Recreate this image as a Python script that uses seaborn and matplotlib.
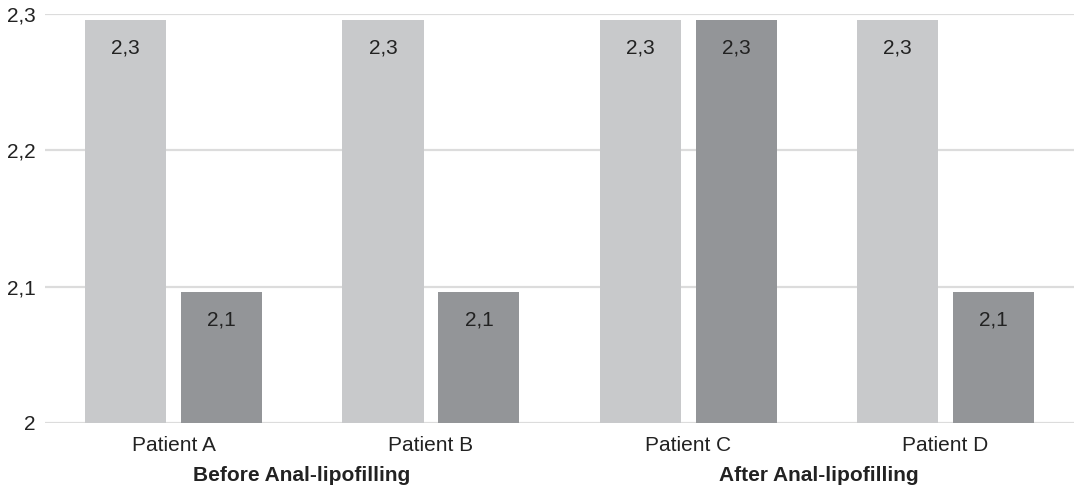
import pandas as pd
import matplotlib
matplotlib.use("Agg")
import matplotlib.pyplot as plt
import seaborn as sns

# data
patients = ["Patient A", "Patient B", "Patient C", "Patient D"]
before = [2.296, 2.296, 2.296, 2.296]
after = [2.096, 2.096, 2.296, 2.096]
series = ["Before Anal-lipofilling", "After Anal-lipofilling"]

df = pd.DataFrame({
    "patient": patients * 2,
    "value": before + after,
    "phase": [series[0]] * len(patients) + [series[1]] * len(patients),
})

sns.set_theme(style="white")
plt.rcParams["font.family"] = ["Liberation Sans", "DejaVu Sans"]

fig = plt.figure(figsize=(10.74, 4.86), dpi=100)
ax = fig.add_axes([0.042, 0.13, 0.958, 0.841])

sns.barplot(
    data=df, x="patient", y="value", hue="phase",
    order=patients, hue_order=series,
    palette=["#c8c9cb", "#939598"],
    width=0.746, gap=0.155, saturation=1, linewidth=0,
    legend=False, ax=ax,
)

ax.set_ylim(2, 2.3)
ax.set_xlim(-0.5, 3.5)
ax.set_yticks([2, 2.1, 2.2, 2.3])
ax.set_yticklabels(["2", "2,1", "2,2", "2,3"])
ax.yaxis.grid(True, color="#dcdcdc", linewidth=1.6)
ax.set_axisbelow(True)
for s in ax.spines.values():
    s.set_visible(False)
ax.tick_params(axis="both", length=0, labelsize=15, colors="#222222")
ax.tick_params(axis="y", pad=7)
ax.tick_params(axis="x", pad=9.5)
ax.set_xlabel("")
ax.set_ylabel("")

for cont in ax.containers:
    ax.bar_label(cont, fmt=lambda v: f"{v:.1f}".replace(".", ","),
                 padding=-27, fontsize=15, color="#222222")

# bold series names under the categories
fig.text(302 / 1074, 1 - 481 / 486, series[0], ha="center", va="baseline",
         fontsize=15, fontweight="bold", color="#222222")
fig.text(819 / 1074, 1 - 481 / 486, series[1], ha="center", va="baseline",
         fontsize=15, fontweight="bold", color="#222222")

fig.savefig("out.png", dpi=100)
